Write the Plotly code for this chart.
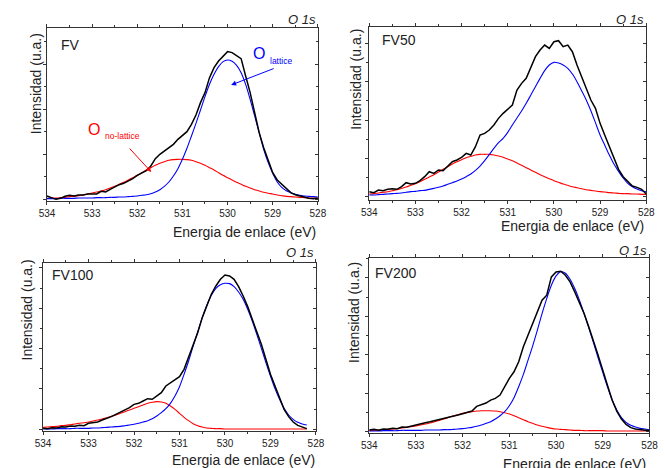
import plotly.graph_objects as go

W, H = 665, 468

energy = [534.0, 533.9, 533.8, 533.7, 533.6, 533.5, 533.4, 533.3, 533.2, 533.1,
          533.0, 532.9, 532.8, 532.7, 532.6, 532.5, 532.4, 532.3, 532.2, 532.1,
          532.0, 531.9, 531.8, 531.7, 531.6, 531.5, 531.4, 531.3, 531.2, 531.1,
          531.0, 530.9, 530.8, 530.7, 530.6, 530.5, 530.4, 530.3, 530.2, 530.1,
          530.0, 529.9, 529.8, 529.7, 529.6, 529.5, 529.4, 529.3, 529.2, 529.1,
          529.0, 528.9, 528.8, 528.7, 528.6, 528.5, 528.4, 528.3, 528.2, 528.1,
          528.0]
x_ticks = [534, 533, 532, 531, 530, 529, 528]

# ---- FV ----
fv_data = [10, 6, 0, 3, 9, 12, 10, 13, 13, 16,
           17, 16, 24, 22, 30, 37, 44, 48, 55, 62,
           72, 78, 86, 100, 122, 135, 145, 155, 165, 180,
           193, 203, 225, 253, 290, 320, 365, 395, 415, 430,
           443, 440, 432, 422, 370, 320, 260, 200, 155, 115,
           80, 58, 45, 30, 20, 14, 10, 7, 3, 2,
           4]
fv_lattice = [2, 2, 2, 3, 3, 3, 3, 4, 4, 4,
              4, 5, 5, 5, 6, 6, 7, 7, 8, 9,
              10, 12, 14, 17, 22, 29, 39, 52, 70, 92,
              120, 153, 190, 228, 268, 308, 345, 375, 398, 413,
              418, 414, 402, 380, 345, 300, 250, 200, 150, 110,
              78, 52, 36, 26, 20, 15, 12, 10, 9, 8,
              7]
fv_nolattice = [3, 4, 4, 5, 6, 8, 9, 11, 13, 16,
                19, 22, 25, 29, 34, 39, 45, 51, 58, 65,
                72, 80, 88, 95, 102, 108, 113, 117, 119, 120,
                120, 119, 117, 113, 108, 102, 95, 88, 80, 72,
                65, 58, 51, 45, 39, 34, 29, 25, 21, 18,
                16, 13, 11, 9, 8, 7, 6, 5, 4, 4,
                3]

# ---- FV50 ----
fv50_data = [15, 12, 20, 18, 22, 24, 22, 30, 42, 38,
             40, 48, 60, 75, 70, 80, 78, 92, 105, 110,
             118, 130, 125, 150, 185, 190, 200, 215, 235, 250,
             262, 275, 320, 340, 355, 390, 420, 440, 455, 445,
             465, 468, 450, 455, 435, 395, 360, 325, 290, 265,
             220, 185, 150, 112, 82, 60, 45, 32, 28, 22,
             8]
fv50_lattice = [5, 5, 6, 7, 8, 9, 10, 11, 13, 15,
                16, 18, 19, 22, 25, 28, 32, 37, 42, 47,
                53, 60, 68, 79, 92, 108, 126, 145, 162, 175,
                193, 215, 236, 257, 280, 305, 330, 355, 378, 395,
                403, 401, 395, 385, 368, 345, 318, 290, 258, 222,
                185, 155, 125, 98, 76, 56, 40, 30, 23, 18,
                15]
fv50_nolattice = [8, 9, 11, 13, 15, 18, 21, 25, 29, 34,
                  39, 45, 52, 59, 66, 74, 82, 90, 98, 105,
                  111, 117, 121, 125, 127, 127, 127, 125, 122, 118,
                  113, 108, 101, 94, 87, 80, 73, 66, 60, 54,
                  48, 43, 38, 34, 30, 27, 24, 21, 19, 17,
                  15, 14, 12, 11, 10, 9, 9, 8, 8, 7,
                  7]

# ---- FV100 (data ends at 528.2 eV) ----
fv100_data = [3, 2, 5, 4, 8, 7, 10, 9, 12, 11,
              18, 20, 22, 28, 32, 38, 45, 52, 58, 65,
              75, 78, 85, 92, 90, 100, 110, 130, 140, 148,
              158, 180, 215, 255, 290, 335, 370, 405, 430, 450,
              463, 460, 450, 428, 400, 368, 330, 292, 255, 210,
              165, 130, 95, 60, 38, 22, 12, 8, 2]
fv100_lattice = [1, 1, 1, 2, 2, 2, 2, 3, 3, 3,
                 3, 4, 4, 5, 6, 7, 8, 9, 11, 13,
                 15, 18, 22, 26, 32, 40, 50, 62, 78, 100,
                 128, 165, 205, 250, 292, 335, 372, 402, 423, 434,
                 438, 437, 428, 412, 390, 360, 325, 285, 243, 200,
                 160, 122, 90, 63, 43, 30, 21, 16, 13]
fv100_nolattice = [6, 7, 8, 9, 11, 12, 14, 16, 18, 20,
                   22, 25, 28, 31, 35, 39, 43, 48, 53, 58,
                   63, 68, 73, 78, 81, 83, 82, 78, 70, 60,
                   48, 36, 26, 17, 11, 7, 4, 3, 2, 2,
                   1, 1, 1, 1, 1, 1, 1, 1, 1, 1,
                   1, 1, 1, 1, 1, 1, 1, 1, 1]

# ---- FV200 ----
fv200_data = [5, 7, 4, 8, 7, 10, 9, 14, 13, 17,
              20, 24, 27, 30, 33, 38, 40, 44, 47, 50,
              54, 58, 62, 76, 80, 86, 95, 100, 110, 135,
              160, 180, 210, 255, 290, 330, 360, 395, 410, 465,
              480, 482, 470, 450, 420, 390, 355, 315, 275, 230,
              185, 140, 95, 62, 38, 22, 12, 8, 6, 4,
              3]
fv200_lattice = [2, 2, 2, 3, 3, 3, 3, 4, 4, 4,
                 4, 4, 5, 5, 5, 5, 6, 6, 7, 8,
                 9, 11, 13, 16, 20, 25, 30, 38, 48, 60,
                 78, 102, 135, 172, 215, 258, 305, 355, 400, 440,
                 468, 481, 476, 458, 430, 395, 355, 312, 268, 222,
                 178, 135, 96, 65, 42, 28, 19, 14, 10, 8,
                 6]
fv200_nolattice = [3, 4, 5, 6, 7, 8, 9, 11, 13, 15,
                   17, 20, 23, 26, 30, 34, 38, 43, 47, 51,
                   55, 58, 60, 62, 63, 63, 63, 62, 60, 57,
                   53, 48, 42, 36, 30, 25, 20, 16, 13, 10,
                   8, 7, 6, 5, 4, 4, 3, 3, 3, 3,
                   3, 2, 2, 2, 2, 2, 2, 2, 2, 2,
                   2]

sample_names = ["FV", "FV50", "FV100", "FV200"]
series = [
    (fv_data, fv_lattice, fv_nolattice),
    (fv50_data, fv50_lattice, fv50_nolattice),
    (fv100_data, fv100_lattice, fv100_nolattice),
    (fv200_data, fv200_lattice, fv200_nolattice),
]

# layout of the four panels (pixel boxes: left, right, top, bottom), y ranges, y tick step
boxes = [(40, 318, 28.3, 201), (370.7, 655, 26.7, 200),
         (36, 316, 263.3, 431), (370.7, 658.3, 258.3, 433)]
yranges = [(-5, 513), (-10, 510), (-5, 498), (-4, 521)]
ysteps = [135, 115, 121, 115.5]
# text positions (pixels)
name_pos = [(52, 45), (382, 40), (43, 275), (375, 273)]
o1s_pos = [(318, 20), (655, 20), (316, 252), (658, 250)]
xtitle_pos = [(318, 232), (655, 226), (317, 460), (657, 464)]
ytitle_pos = [(29, 84), (357, 79), (19, 310), (355, 312)]

FONT = "Arial, 'Liberation Sans', sans-serif"
AXC = "#333333"

fig = go.Figure()
layout = dict(width=W, height=H, margin=dict(l=0, r=0, t=0, b=0),
              paper_bgcolor="white", plot_bgcolor="white", showlegend=False,
              font=dict(family=FONT, color="#222222"))
annotations = []

def px(xp):
    return xp / W

def py(yp):
    return 1 - yp / H

for i, (blk, blu, rd) in enumerate(series):
    n = i + 1
    sfx = "" if n == 1 else str(n)
    xa, ya = "x" + sfx, "y" + sfx
    l, r, t, b = boxes[i]
    fig.add_trace(go.Scatter(x=energy[:len(rd)], y=rd, mode="lines", xaxis=xa, yaxis=ya,
                             line=dict(color="#ff0000", width=1.1, shape="spline", smoothing=0.8),
                             hoverinfo="skip"))
    fig.add_trace(go.Scatter(x=energy[:len(blu)], y=blu, mode="lines", xaxis=xa, yaxis=ya,
                             line=dict(color="#0000ff", width=1.1, shape="spline", smoothing=0.8),
                             hoverinfo="skip"))
    fig.add_trace(go.Scatter(x=energy[:len(blk)], y=blk, mode="lines", xaxis=xa, yaxis=ya,
                             line=dict(color="#000000", width=1.5),
                             hoverinfo="skip"))
    # right-side overlay axis (inside ticks)
    yr_name = "y" + str(n + 4)
    fig.add_trace(go.Scatter(x=[], y=[], xaxis=xa, yaxis=yr_name, hoverinfo="skip"))

    layout["xaxis" + sfx] = dict(
        domain=[px(l), px(r)], anchor=ya, range=[534, 528],
        tickmode="array", tickvals=x_ticks, ticktext=[str(v) for v in x_ticks],
        ticks="outside", ticklen=3, tickwidth=1, tickcolor=AXC,
        minor=dict(ticks="outside", ticklen=2, tickcolor=AXC, dtick=0.5, tick0=528),
        showline=True, linecolor=AXC, linewidth=1, mirror="ticks",
        showgrid=False, zeroline=False, ticklabeloverflow="allow",
        tickfont=dict(size=10, color="#222222", family=FONT))
    layout["yaxis" + sfx] = dict(
        domain=[py(b), py(t)], anchor=xa, range=list(yranges[i]),
        tickmode="linear", tick0=0, dtick=ysteps[i], showticklabels=False,
        ticks="outside", ticklen=3, tickwidth=1, tickcolor=AXC,
        minor=dict(ticks="outside", ticklen=2, tickcolor=AXC, dtick=ysteps[i] / 2, tick0=0),
        showline=True, linecolor=AXC, linewidth=1,
        showgrid=False, zeroline=False)
    layout["yaxis" + str(n + 4)] = dict(
        overlaying=ya, side="right", anchor=xa, range=list(yranges[i]),
        tickmode="linear", tick0=0, dtick=ysteps[i], showticklabels=False,
        ticks="inside", ticklen=3, tickwidth=1, tickcolor=AXC,
        minor=dict(ticks="inside", ticklen=2, tickcolor=AXC, dtick=ysteps[i] / 2, tick0=0),
        showline=True, linecolor=AXC, linewidth=1,
        showgrid=False, zeroline=False)

    nx, ny = name_pos[i]
    annotations.append(dict(text=sample_names[i], x=px(nx), y=py(ny), xref="paper", yref="paper",
                            xanchor="left", yanchor="middle", showarrow=False,
                            font=dict(size=14, color="#222222", family=FONT)))
    ox, oy = o1s_pos[i]
    annotations.append(dict(text="<i>O 1s</i>", x=px(ox), y=py(oy), xref="paper", yref="paper",
                            xanchor="right", yanchor="middle", showarrow=False,
                            font=dict(size=13, color="#222222", family=FONT)))
    tx, ty = xtitle_pos[i]
    annotations.append(dict(text="Energia de enlace (eV)", x=px(tx), y=py(ty), xref="paper", yref="paper",
                            xanchor="right", yanchor="middle", showarrow=False,
                            font=dict(size=14, color="#222222", family=FONT)))
    yx, yy = ytitle_pos[i]
    annotations.append(dict(text="Intensidad (u.a.)", x=px(yx), y=py(yy), xref="paper", yref="paper",
                            xanchor="center", yanchor="middle", showarrow=False, textangle=-90,
                            font=dict(size=14, color="#222222", family=FONT)))

# component labels and arrows in the FV panel
annotations += [
    dict(text="O", x=px(88), y=py(129), xref="paper", yref="paper", showarrow=False,
         xanchor="center", yanchor="middle", font=dict(size=16, color="#ff0000", family=FONT)),
    dict(text="no-lattice", x=px(97), y=py(136), xref="paper", yref="paper", showarrow=False,
         xanchor="left", yanchor="middle", font=dict(size=8.5, color="#ff0000", family=FONT)),
    dict(text="O", x=px(258), y=py(53), xref="paper", yref="paper", showarrow=False,
         xanchor="center", yanchor="middle", font=dict(size=16, color="#0000ff", family=FONT)),
    dict(text="lattice", x=px(267), y=py(61), xref="paper", yref="paper", showarrow=False,
         xanchor="left", yanchor="middle", font=dict(size=8.5, color="#0000ff", family=FONT)),
    dict(text="", x=px(147), y=py(172), xref="paper", yref="paper", showarrow=True,
         ax=-23, ay=-25, arrowhead=2, arrowsize=1, arrowwidth=1, arrowcolor="#ff0000"),
    dict(text="", x=px(229), y=py(85), xref="paper", yref="paper", showarrow=True,
         ax=44, ay=-17, arrowhead=2, arrowsize=1, arrowwidth=1, arrowcolor="#0000ff"),
]
layout["annotations"] = annotations
fig.update_layout(**layout)
fig.write_html("out.html", config={"displayModeBar": False},
               post_script="document.body.style.margin='0px';")
